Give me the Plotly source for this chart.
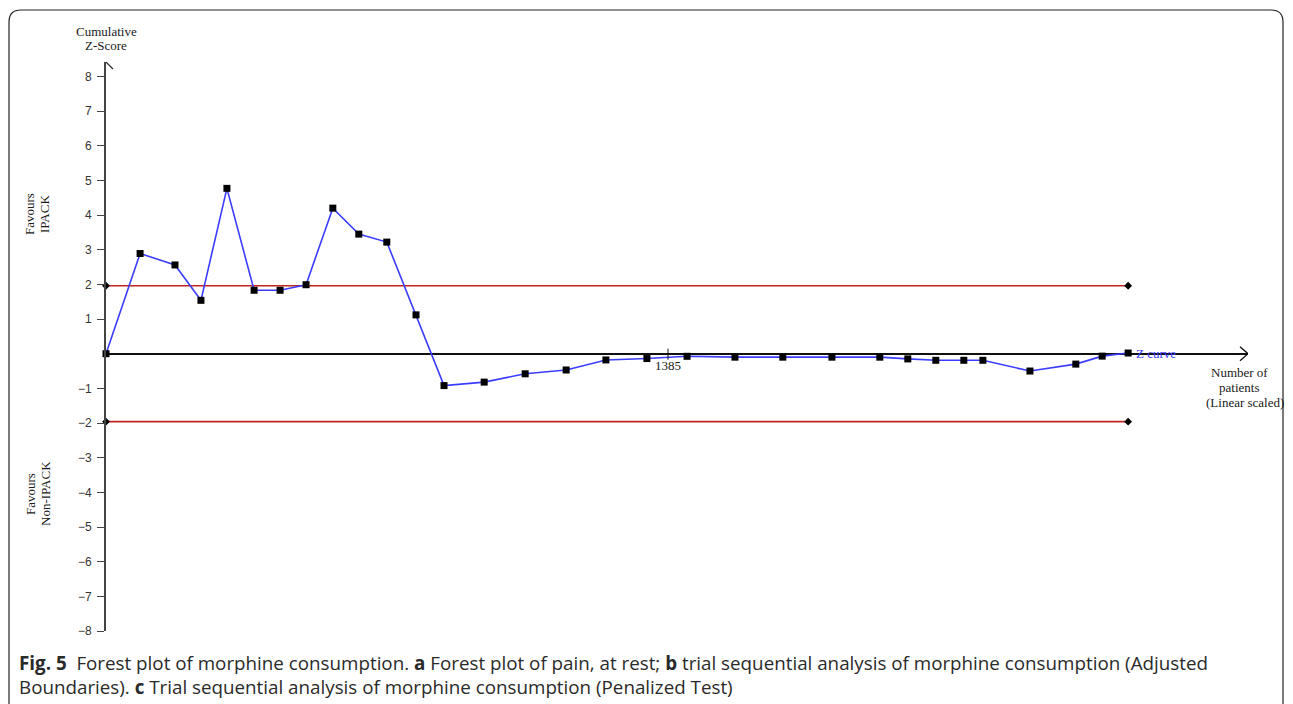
import plotly.graph_objects as go

# ---------------- data ----------------
patients = [0, 84, 170, 234, 298, 365, 429, 493, 559, 623, 692, 764, 833, 932, 1033,
            1134, 1232, 1333, 1432, 1550, 1668, 1789, 1907, 1976, 2045, 2114, 2161,
            2277, 2390, 2455, 2519]
z_curve = [0, 2.89, 2.56, 1.54, 4.77, 1.83, 1.83, 1.99, 4.20, 3.45, 3.22, 1.12, -0.92,
           -0.82, -0.58, -0.47, -0.18, -0.14, -0.075, -0.10, -0.10, -0.10, -0.10, -0.15,
           -0.19, -0.19, -0.19, -0.50, -0.30, -0.07, 0.02]
boundary_x = [0, 2519]
upper_boundary = [1.96, 1.96]
lower_boundary = [-1.96, -1.96]
y_tickvals = [-8, -7, -6, -5, -4, -3, -2, -1, 1, 2, 3, 4, 5, 6, 7, 8]
x_mark = 1385

# ---------------- geometry (reference pixel coords, page has 8px body margin) ----------------
OFF = 8
W, H = 1293 - OFF, 704 - OFF
L, R, T, B = 106, 1248, 62, 631          # plot area in page pixels
PPU_X = (668 - 106) / 1385.0             # pixels per patient
XMAX = (R - L) / PPU_X
PPU_Y = (B - 353.7) / 8.0
YTOP = (353.7 - T) / PPU_Y

def dx(p):
    return p / PPU_X

def dy(p):
    return p / PPU_Y

def paper_x(px):
    return (px - L) / (R - L)

def paper_y(py):
    return (B - py) / (B - T)

SERIF = "Liberation Serif, Times New Roman, serif"
SANS = "Liberation Sans, Arial, sans-serif"
CAP = "Open Sans, Noto Sans, sans-serif"

fig = go.Figure()

red = "rgb(192,36,36)"
for yb in (upper_boundary, lower_boundary):
    fig.add_trace(go.Scatter(x=boundary_x, y=yb, mode="lines+markers",
                             line=dict(color=red, width=1.6),
                             marker=dict(symbol="diamond", size=6, color="black"),
                             cliponaxis=False, hoverinfo="skip", showlegend=False))
fig.add_trace(go.Scatter(x=patients, y=z_curve, mode="lines+markers",
                         line=dict(color="rgb(60,60,255)", width=1.6),
                         marker=dict(symbol="square", size=7, color="black"),
                         cliponaxis=False, showlegend=False))

shapes = []
# y-axis arrow head
shapes.append(dict(type="path", xref="x", yref="y",
                   path=f"M {-dx(7)},{YTOP - dy(7)} L 0,{YTOP} L {dx(7)},{YTOP - dy(7)}",
                   line=dict(color="#333", width=1.3)))
# x-axis arrow head
shapes.append(dict(type="path", xref="x", yref="y",
                   path=f"M {XMAX - dx(8)},{dy(7)} L {XMAX},0 L {XMAX - dx(8)},{-dy(7)}",
                   line=dict(color="#111", width=1.3)))
# tick at x_mark
shapes.append(dict(type="line", xref="x", yref="y", x0=x_mark, x1=x_mark,
                   y0=dy(5), y1=-dy(6), line=dict(color="#111", width=1)))
# frame
fx0, fx1, fy0, fy1, r = 9, 1283, 10, 710, 12
frame = (f"M {paper_x(fx0)},{paper_y(fy1)} L {paper_x(fx0)},{paper_y(fy0 + r)} "
         f"Q {paper_x(fx0)},{paper_y(fy0)} {paper_x(fx0 + r)},{paper_y(fy0)} "
         f"L {paper_x(fx1 - r)},{paper_y(fy0)} "
         f"Q {paper_x(fx1)},{paper_y(fy0)} {paper_x(fx1)},{paper_y(fy0 + r)} "
         f"L {paper_x(fx1)},{paper_y(fy1)}")
shapes.append(dict(type="path", xref="paper", yref="paper", path=frame,
                   line=dict(color="#222", width=1.2)))

ann = []
def add_text(text, px, py, font, xanchor="center", yanchor="middle", textangle=0, align="center"):
    ann.append(dict(text=text, x=paper_x(px), y=paper_y(py), xref="paper", yref="paper",
                    showarrow=False, font=font, xanchor=xanchor, yanchor=yanchor,
                    textangle=textangle, align=align))

sfont = dict(family=SERIF, size=13, color="#1a1a1a")
add_text("Cumulative", 106, 32, sfont)
add_text("Z-Score", 106, 46, sfont)
add_text("Favours", 30, 214, sfont, textangle=-90)
add_text("IPACK", 45, 214, sfont, textangle=-90)
add_text("Favours", 30, 494, sfont, textangle=-90)
add_text("Non-IPACK", 45, 494, sfont, textangle=-90)
add_text("Number of", 1239, 373, sfont)
add_text("patients", 1239, 387.5, sfont)
add_text("(Linear scaled)", 1245, 402, sfont)
add_text("1385", 668, 366, sfont)
add_text("Z curve", 1134, 353, dict(family=SERIF, size=13, color="rgb(60,60,255)"), xanchor="left")

cfont = dict(family=CAP, size=18.8, color="#2a2a2a")
add_text("<b>Fig. 5</b>  Forest plot of morphine consumption. <b>a</b> Forest plot of pain, at rest; "
         "<b>b</b> trial sequential analysis of morphine consumption (Adjusted<br>"
         "Boundaries). <b>c</b> Trial sequential analysis of morphine consumption (Penalized Test)",
         17, 675, cfont, xanchor="left", align="left")

fig.update_layout(
    width=W, height=H, autosize=False,
    margin=dict(l=L - OFF, r=W - (R - OFF), t=T - OFF, b=H - (B - OFF), pad=0),
    paper_bgcolor="white", plot_bgcolor="white",
    xaxis=dict(range=[0, XMAX], visible=False, showgrid=False, zeroline=False),
    yaxis=dict(range=[-8, YTOP], showgrid=False, zeroline=True, zerolinecolor="#111",
               zerolinewidth=1.5, showline=True, linecolor="#444", linewidth=1.8,
               ticks="outside", ticklen=7, tickwidth=1.2, tickcolor="#444",
               ticklabelstandoff=3,
               tickvals=y_tickvals, tickfont=dict(family=SANS, size=12, color="#333")),
    shapes=shapes, annotations=ann, showlegend=False,
)

fig.write_html("out.html")
